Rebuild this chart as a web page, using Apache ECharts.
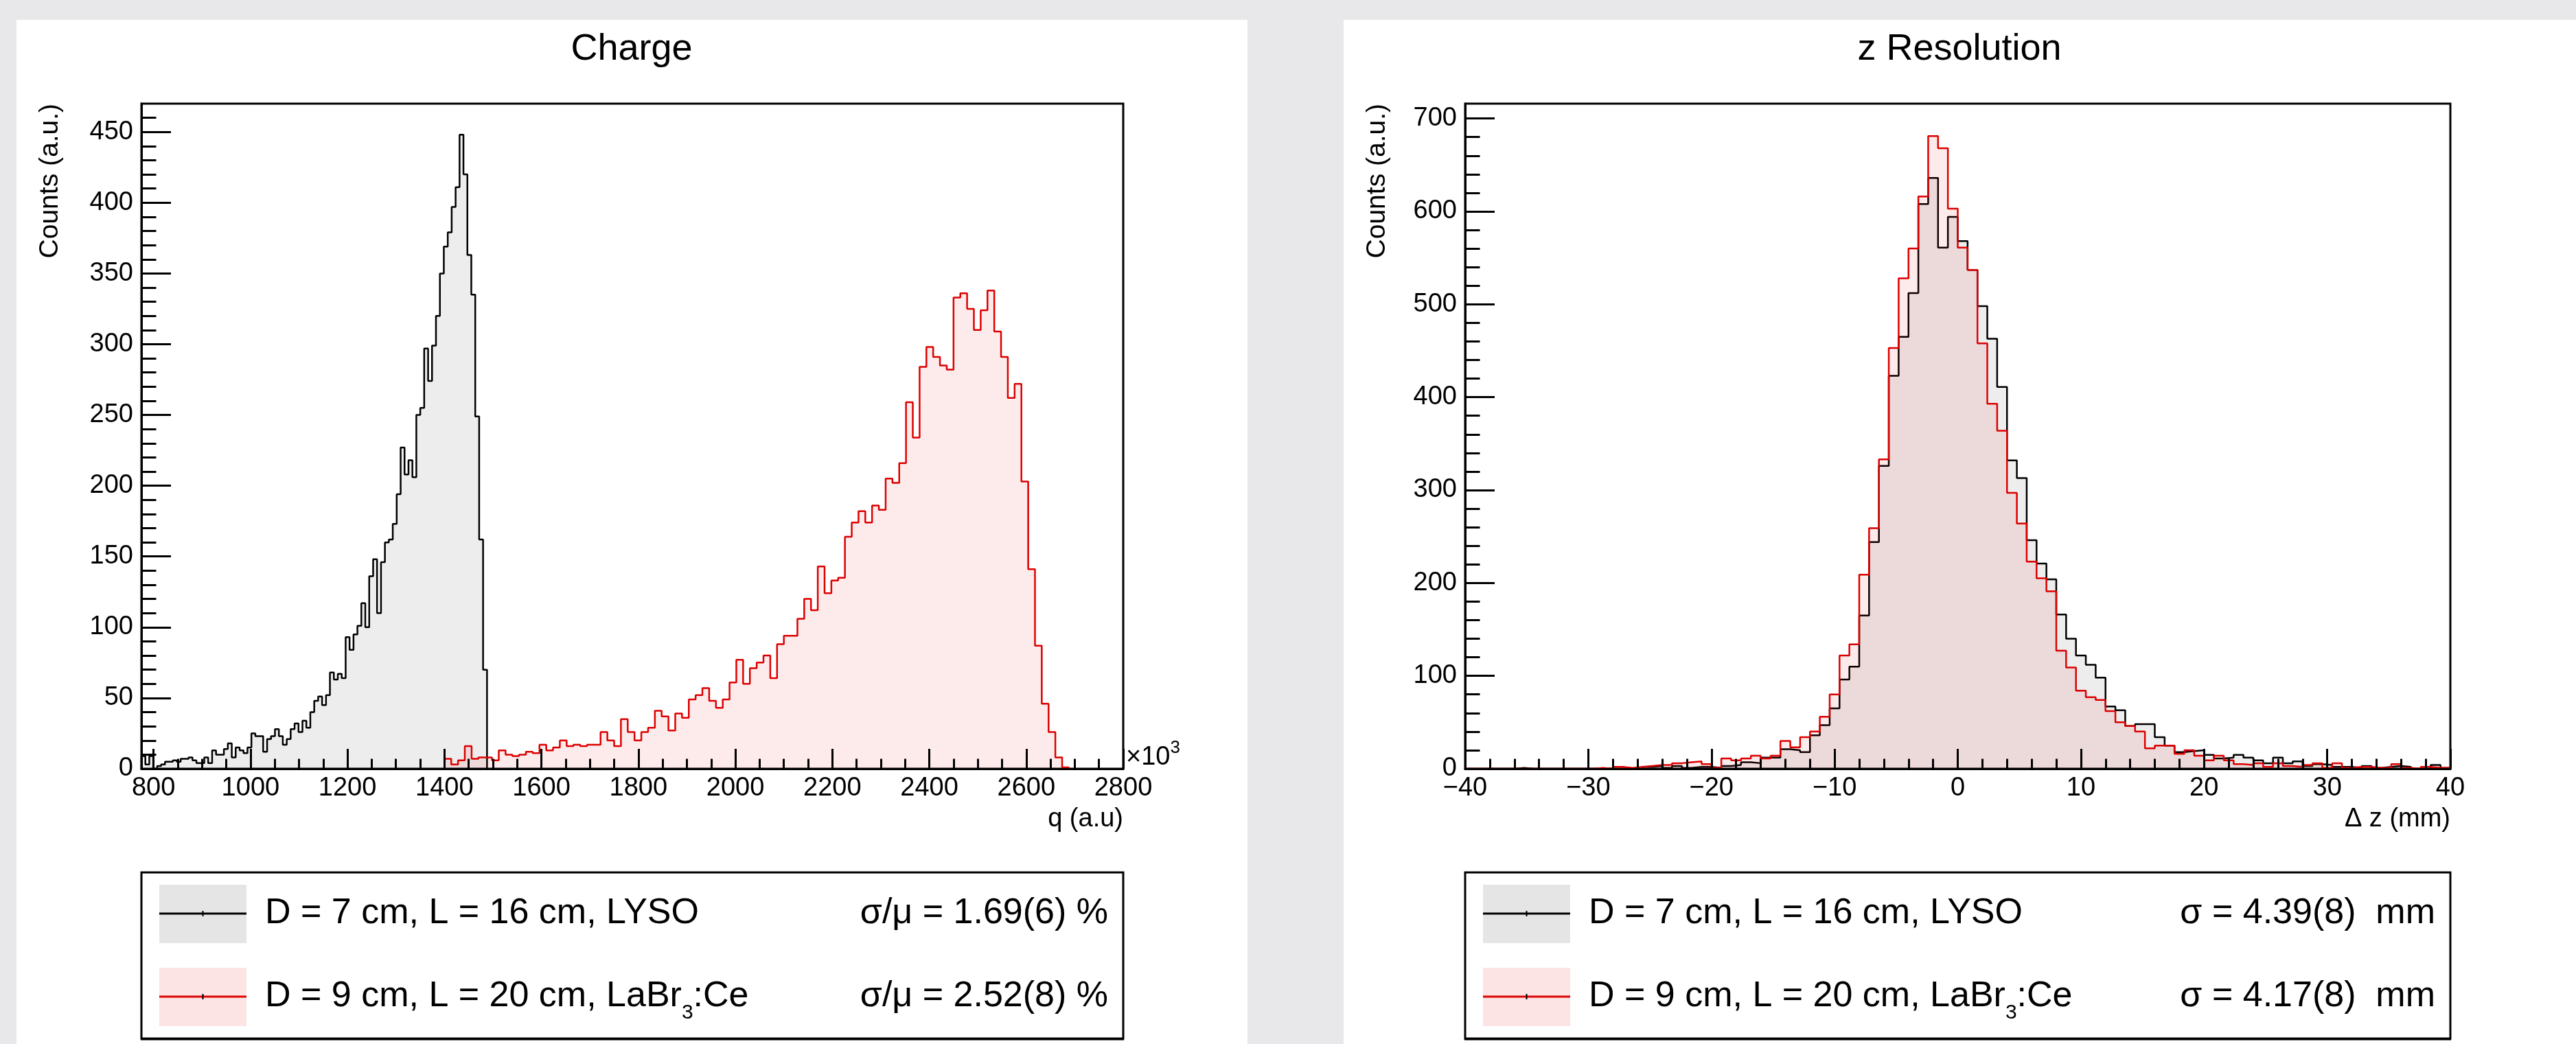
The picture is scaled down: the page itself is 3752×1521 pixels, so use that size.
<!DOCTYPE html>
<html>
<head>
<meta charset="utf-8">
<title>Charge / z Resolution</title>
<script src="https://cdn.jsdelivr.net/npm/echarts@6/dist/echarts.min.js"></script>
<style>
  html, body { margin: 0; padding: 0; background: #e8e8ea; }
  #chart { width: 3752px; height: 1521px; }
</style>
</head>
<body>
<div id="chart"></div>
<script>
// ---- data ----
var chargeRange = [775, 2800]
var chargeCountMax = 470
var chargeTicks = [800, 1000, 1200, 1400, 1600, 1800, 2000, 2200, 2400, 2600, 2800]
var chargeCountTicks = [0, 50, 100, 150, 200, 250, 300, 350, 400, 450]

// LYSO charge: bins of 8.1 starting at 775
var lysoChargeStart = 775
var lysoChargeBin = 8.1
var lysoCharge = [
  9, 3, 9, 0, 2, 3, 5, 5, 6, 5, 7, 7, 8, 6, 4, 4, 8, 4, 13, 10,
  10, 14, 18, 8, 15, 13, 11, 15, 25, 23, 23, 12, 21, 23, 28, 23, 17, 21, 28, 32,
  26, 34, 29, 40, 48, 51, 45, 52, 68, 63, 67, 64, 93, 84, 95, 101, 117, 100, 136, 148,
  110, 146, 160, 162, 173, 194, 227, 208, 218, 206, 250, 255, 297, 274, 299, 320, 350, 369, 379, 397,
  411, 448, 420, 363, 335, 249, 162, 70
]

// LaBr3 charge: bins of 14 starting at 1400
var labrChargeStart = 1400
var labrChargeBin = 14
var labrCharge = [
  7, 3, 6, 16, 7, 8, 8, 6, 13, 10, 9, 10, 12, 11, 17, 13, 15, 20, 16, 17,
  16, 17, 17, 26, 20, 16, 35, 26, 20, 26, 29, 41, 37, 27, 39, 36, 49, 52, 57, 48,
  43, 49, 61, 77, 60, 71, 75, 80, 64, 88, 94, 94, 106, 120, 112, 143, 124, 133, 135, 164,
  174, 182, 174, 186, 183, 205, 202, 216, 259, 234, 284, 298, 291, 285, 282, 333, 336, 325, 310, 324,
  338, 309, 291, 262, 272, 203, 141, 87, 46, 26, 8, 1
]

var dzRange = [-40, 40]
var dzCountMax = 716
var dzTicks = [-40, -30, -20, -10, 0, 10, 20, 30, 40]
var dzCountTicks = [0, 100, 200, 300, 400, 500, 600, 700]

// z resolution: 100 bins of 0.8 mm from -40
var dzStart = -40
var dzBin = 0.8
var lysoDz = [
  0, 0, 0, 0, 0, 1, 0, 0, 0, 0, 0, 0, 0, 0, 0, 0, 0, 0, 2, 3,
  1, 3, 1, 2, 2, 1, 3, 4, 7, 6, 12, 12, 21, 20, 18, 36, 47, 65, 96, 110,
  165, 244, 326, 423, 465, 512, 608, 636, 561, 594, 568, 537, 498, 463, 411, 332, 313, 246, 221, 204,
  166, 140, 122, 112, 98, 67, 63, 46, 48, 48, 34, 25, 18, 19, 20, 15, 11, 12, 15, 12,
  9, 6, 12, 6, 8, 3, 5, 4, 2, 2, 1, 3, 1, 2, 3, 2, 0, 0, 4, 1
]
var labrDz = [
  0, 0, 0, 0, 0, 0, 0, 0, 0, 0, 0, 0, 0, 1, 0, 2, 1, 2, 3, 4,
  4, 6, 7, 8, 5, 1, 11, 9, 11, 14, 11, 14, 30, 23, 34, 40, 56, 80, 122, 134,
  209, 259, 333, 453, 528, 560, 616, 681, 668, 603, 561, 537, 458, 393, 364, 297, 264, 223, 205, 191,
  127, 109, 84, 77, 74, 62, 50, 46, 40, 22, 25, 25, 16, 20, 14, 9, 14, 9, 5, 4,
  6, 2, 6, 3, 2, 4, 6, 1, 6, 1, 2, 2, 1, 1, 5, 1, 0, 2, 1, 1
]

var entryLabels = ['D = 7 cm, L = 16 cm, LYSO', 'D = 9 cm, L = 20 cm, LaBr']
var chargeSigma = ['\u03c3/\u03bc = 1.69(6) %', '\u03c3/\u03bc = 2.52(8) %']
var dzSigma = ['\u03c3 = 4.39(8)  mm', '\u03c3 = 4.17(8)  mm']

// ---- style ----
var FONT = '"Liberation Sans", Arial, Helvetica, sans-serif'
var COLORS = {
  lysoLine: '#000000',
  lysoFill: 'rgba(0,0,0,0.1)',
  labrLine: '#dd0000',
  labrFill: 'rgba(225,0,10,0.11)'
}

function histPoints(start, width, values) {
  var pts = [[start, 0]]
  values.forEach(function (v, i) { pts.push([start + i * width, v]) })
  pts.push([start + values.length * width, 0])
  return pts
}

function stepTicks(from, to, step) {
  var out = []
  for (var v = from; v <= to + 1e-9; v += step) out.push(Math.round(v * 1000) / 1000)
  return out
}

function textWidth(str, size) {
  var ctx = document.createElement('canvas').getContext('2d')
  ctx.font = size + 'px ' + FONT
  return ctx.measureText(str).width
}

function majorAxis(gridIndex, range, ticks, tickLen, margin, isX) {
  return {
    type: 'value',
    gridIndex: gridIndex,
    position: isX ? 'bottom' : 'left',
    z: 5,
    min: range[0],
    max: range[1],
    axisLine: { show: true, onZero: false, lineStyle: { color: '#000', width: 3 } },
    splitLine: { show: false },
    axisTick: { show: true, inside: true, length: tickLen, customValues: ticks, lineStyle: { color: '#000', width: 3 } },
    axisLabel: {
      show: true,
      customValues: ticks,
      margin: margin,
      color: '#000',
      fontSize: 38,
      fontFamily: FONT,
      formatter: function (v) { return String(v).replace('-', '\u2212') }
    }
  }
}

function minorAxis(gridIndex, range, ticks, tickLen, isX) {
  return {
    type: 'value',
    gridIndex: gridIndex,
    position: isX ? 'bottom' : 'left',
    offset: 0,
    z: 5,
    min: range[0],
    max: range[1],
    axisLine: { show: false, onZero: false },
    splitLine: { show: false },
    axisTick: { show: true, inside: true, length: tickLen, customValues: ticks, lineStyle: { color: '#000', width: 3 } },
    axisLabel: { show: false }
  }
}

function histSeries(xIdx, yIdx, points, line, fill, z) {
  return {
    type: 'line',
    xAxisIndex: xIdx,
    yAxisIndex: yIdx,
    step: 'end',
    symbol: 'none',
    silent: true,
    clip: true,
    z: z,
    data: points,
    lineStyle: { color: line, width: 2.5 },
    areaStyle: { color: fill, origin: 'start' }
  }
}

function text(x, y, str, size, align, vAlign, extra) {
  var el = {
    type: 'text',
    x: x,
    y: y,
    z: 20,
    style: {
      text: str,
      fill: '#000',
      fontSize: size,
      fontFamily: FONT,
      align: align,
      verticalAlign: vAlign
    }
  }
  if (extra) Object.assign(el, extra)
  return el
}

function legendBox(left, width, sigmas) {
  var top = 1271, height = 242
  var boxX = left + 26, boxW = 127
  var textX = left + 180
  var rowY = [1331, 1452]
  var els = [
    { type: 'rect', z: 15, shape: { x: left, y: top, width: width, height: height },
      style: { fill: '#fff', stroke: '#000', lineWidth: 3 } },
    { type: 'line', z: 16, shape: { x1: left - 1, y1: top + height + 1, x2: left + width + 1, y2: top + height + 1 },
      style: { stroke: '#000', lineWidth: 3 } }
  ]
  var fills = [COLORS.lysoFill, COLORS.labrFill]
  var lines = [COLORS.lysoLine, COLORS.labrLine]
  rowY.forEach(function (y, i) {
    els.push({ type: 'rect', z: 16, shape: { x: boxX, y: y - 42, width: boxW, height: 85 }, style: { fill: fills[i] } })
    els.push({ type: 'line', z: 17, shape: { x1: boxX, y1: y, x2: boxX + boxW, y2: y }, style: { stroke: lines[i], lineWidth: 3 } })
    els.push({ type: 'line', z: 17, shape: { x1: boxX + boxW / 2, y1: y - 4, x2: boxX + boxW / 2, y2: y + 4 }, style: { stroke: '#000', lineWidth: 2 } })
    els.push(text(textX, y, entryLabels[i], 52, 'left', 'middle'))
    els.push(text(left + width - 22, y, sigmas[i], 52, 'right', 'middle'))
  })
  // subscript and suffix of LaBr3:Ce
  var w = textWidth(entryLabels[1], 52)
  els.push(text(textX + w, rowY[1] + 24, '3', 30, 'left', 'middle'))
  els.push(text(textX + w + textWidth('3', 30), rowY[1], ':Ce', 52, 'left', 'middle'))
  return els
}

var chart = echarts.init(document.getElementById('chart'), null, { renderer: 'canvas' })

var option = {
  animation: false,
  backgroundColor: '#e8e8ea',
  grid: [
    { left: 206, top: 151, width: 1430, height: 969, show: true, borderColor: '#000', borderWidth: 3, backgroundColor: 'rgba(0,0,0,0)' },
    { left: 2134, top: 151, width: 1435, height: 969, show: true, borderColor: '#000', borderWidth: 3, backgroundColor: 'rgba(0,0,0,0)' }
  ],
  xAxis: [
    majorAxis(0, chargeRange, chargeTicks, 29, 10, true),
    minorAxis(0, chargeRange, stepTicks(800, 2750, 50), 14.5, true),
    majorAxis(1, dzRange, dzTicks, 29, 10, true),
    minorAxis(1, dzRange, stepTicks(-38, 38, 2), 14.5, true)
  ],
  yAxis: [
    majorAxis(0, [0, chargeCountMax], chargeCountTicks, 43, 12, false),
    minorAxis(0, [0, chargeCountMax], stepTicks(10, 460, 10), 21.5, false),
    majorAxis(1, [0, dzCountMax], dzCountTicks, 43, 12, false),
    minorAxis(1, [0, dzCountMax], stepTicks(20, 700, 20), 21.5, false)
  ],
  series: [
    histSeries(0, 0, histPoints(lysoChargeStart, lysoChargeBin, lysoCharge), COLORS.lysoLine, COLORS.lysoFill, 2),
    histSeries(0, 0, histPoints(labrChargeStart, labrChargeBin, labrCharge), COLORS.labrLine, COLORS.labrFill, 3),
    histSeries(2, 2, histPoints(dzStart, dzBin, lysoDz), COLORS.lysoLine, COLORS.lysoFill, 2),
    histSeries(2, 2, histPoints(dzStart, dzBin, labrDz), COLORS.labrLine, COLORS.labrFill, 3)
  ],
  graphic: [
    { type: 'rect', z: -10, shape: { x: 24, y: 29, width: 1793, height: 1492 }, style: { fill: '#fff' } },
    { type: 'rect', z: -10, shape: { x: 1957, y: 29, width: 1795, height: 1492 }, style: { fill: '#fff' } },
    text(920, 72, 'Charge', 54, 'center', 'middle'),
    text(2854, 72, 'z Resolution', 54, 'center', 'middle'),
    text(73, 151, 'Counts (a.u.)', 39, 'right', 'middle', { rotation: Math.PI / 2 }),
    text(2006, 151, 'Counts (a.u.)', 39, 'right', 'middle', { rotation: Math.PI / 2 }),
    text(1636, 1194, 'q (a.u)', 38, 'right', 'middle'),
    text(3569, 1194, '\u0394 z (mm)', 38, 'right', 'middle'),
    text(1640, 1104, '\u00d710', 38, 'left', 'middle'),
    text(1640 + textWidth('\u00d710', 38), 1090, '3', 26, 'left', 'middle')
  ].concat(legendBox(206, 1430, chargeSigma), legendBox(2134, 1435, dzSigma))
}

chart.setOption(option)
</script>
</body>
</html>
